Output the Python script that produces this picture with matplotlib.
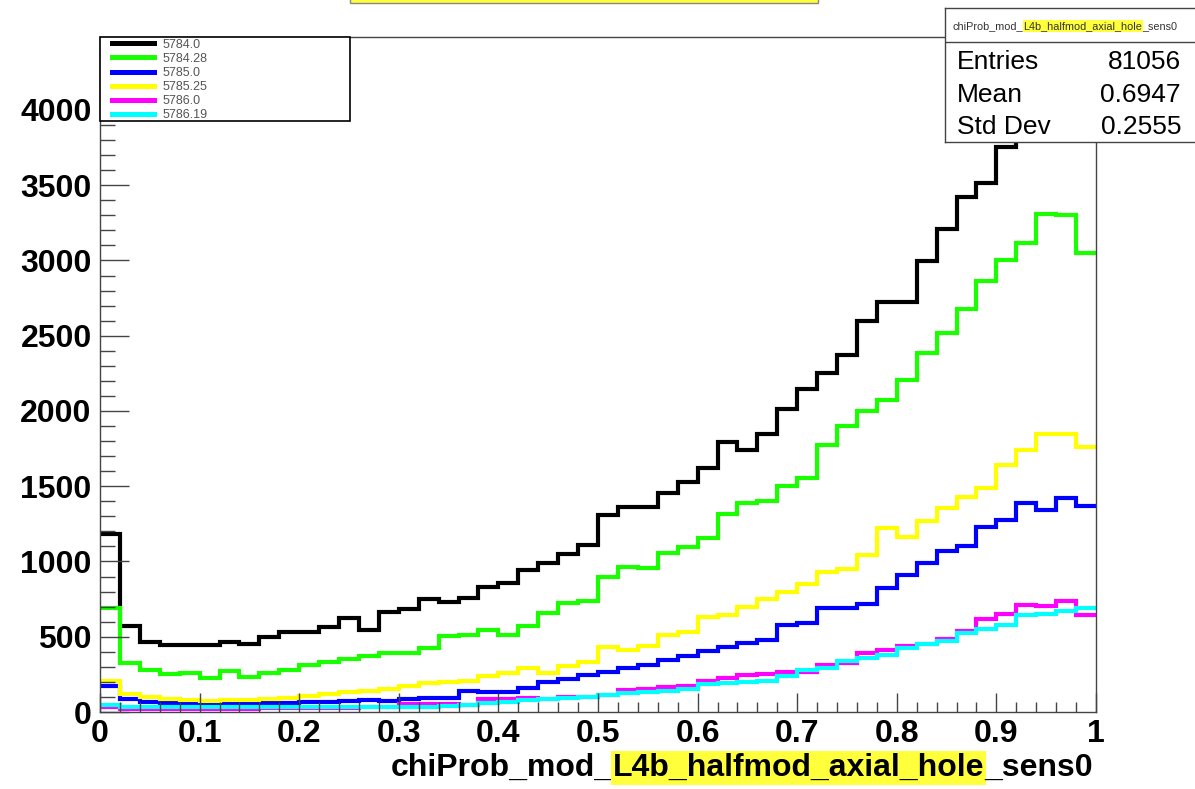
import numpy as np
import matplotlib
matplotlib.use('Agg')
import matplotlib.pyplot as plt
from matplotlib.ticker import MultipleLocator
from matplotlib.transforms import IdentityTransform
from matplotlib.patches import Rectangle

plt.rcParams['font.family'] = ['Liberation Sans', 'DejaVu Sans']

# 50 bins of chiProb in [0, 1]
edges = np.linspace(0.0, 1.0, 51)

run_labels = ['5784.0', '5784.28', '5785.0', '5785.25', '5786.0', '5786.19']
run_colors = ['#000000', '#1aff00', '#0000ff', '#ffff00', '#ff00ff', '#00ffff']

h_5784_0 = [1180, 571, 467, 445, 445, 445, 467, 450, 500, 534,
            534, 567, 622, 545, 662, 682, 749, 733, 755, 833,
            855, 944, 992, 1050, 1110, 1309, 1360, 1360, 1453, 1530,
            1619, 1796, 1741, 1850, 2016, 2145, 2250, 2371, 2601, 2721,
            2727, 2998, 3211, 3424, 3512, 3756, 3950, 4150, 4270, 3950]
h_5784_28 = [689, 325, 280, 250, 257, 228, 275, 230, 259, 279,
             309, 333, 350, 372, 392, 394, 423, 505, 512, 545,
             512, 571, 656, 726, 740, 899, 966, 955, 1059, 1099,
             1154, 1316, 1387, 1400, 1500, 1556, 1773, 1899, 2000, 2070,
             2207, 2383, 2516, 2679, 2867, 3003, 3118, 3306, 3299, 3053]
h_5785_0 = [175, 84, 69, 58, 53, 53, 53, 58, 58, 58,
            69, 69, 73, 80, 75, 88, 94, 94, 138, 135,
            135, 160, 198, 218, 243, 266, 290, 314, 345, 371,
            406, 434, 456, 480, 578, 594, 694, 690, 720, 827,
            908, 991, 1071, 1104, 1229, 1279, 1387, 1342, 1422, 1367]
h_5785_25 = [205, 117, 100, 88, 82, 76, 78, 82, 84, 91,
             104, 118, 130, 142, 152, 170, 192, 198, 209, 239,
             257, 290, 259, 306, 331, 429, 410, 437, 514, 534,
             633, 644, 700, 750, 800, 852, 928, 953, 1041, 1221,
             1166, 1266, 1354, 1430, 1488, 1643, 1744, 1849, 1849, 1764]
h_5786_0 = [30, 22, 20, 20, 20, 20, 22, 22, 24, 24,
            25, 26, 28, 30, 32, 55, 55, 55, 45, 84,
            84, 91, 84, 102, 102, 113, 146, 150, 165, 175,
            205, 225, 245, 255, 263, 263, 313, 326, 389, 409,
            439, 451, 484, 539, 619, 652, 710, 702, 735, 644]
h_5786_19 = [45, 31, 30, 30, 30, 30, 30, 30, 31, 31,
             32, 32, 33, 34, 35, 33, 36, 38, 44, 58,
             69, 80, 84, 91, 102, 113, 126, 135, 142, 150,
             185, 190, 201, 208, 238, 276, 293, 338, 358, 376,
             426, 451, 469, 526, 551, 577, 644, 652, 670, 690]

hists = [h_5784_0, h_5784_28, h_5785_0, h_5785_25, h_5786_0, h_5786_19]

stat_names = ['Entries', 'Mean', 'Std Dev']
stat_values = ['81056', '0.6947', '0.2555']

name_parts = [('chiProb_mod_', False), ('L4b_halfmod_axial_hole', True), ('_sens0', False)]
HL = '#ffff3c'

W, H = 1195, 789
fig = plt.figure(figsize=(W / 100, H / 100), dpi=100)
ax = fig.add_axes([100 / W, 1 - 712 / H, 996 / W, 675 / H])

for vals, lab, col in zip(hists, run_labels, run_colors):
    ax.stairs(vals, edges, baseline=None, color=col, lw=3, label=lab)

ax.set_xlim(0, 1)
ax.set_ylim(0, 4485)
ax.xaxis.set_major_locator(MultipleLocator(0.1))
ax.xaxis.set_minor_locator(MultipleLocator(0.02))
ax.yaxis.set_major_locator(MultipleLocator(500))
ax.yaxis.set_minor_locator(MultipleLocator(100))
ax.xaxis.set_major_formatter(plt.FuncFormatter(lambda v, p: '%g' % round(v, 2)))
ax.tick_params(axis='y', which='major', direction='in', length=21, width=1, color='#444',
               labelsize=23, pad=6)
ax.tick_params(axis='y', which='minor', direction='in', length=10.5, width=1, color='#444')
ax.tick_params(axis='x', which='major', direction='in', length=14, width=1, color='#444',
               labelsize=23, pad=5)
ax.tick_params(axis='x', which='minor', direction='in', length=7, width=1, color='#444')
for lab in ax.get_xticklabels() + ax.get_yticklabels():
    lab.set_fontweight('bold')
for sp in ax.spines.values():
    sp.set_color('#444')
    sp.set_linewidth(1)

# legend: frameless entries plus a drawn box, like the ROOT TLegend
leg = ax.legend(loc='upper left', bbox_to_anchor=(111 / W, 1 - 38 / H),
                bbox_transform=fig.transFigure, borderaxespad=0, borderpad=0.05,
                fontsize=9, handlelength=3.4, handletextpad=0.65, labelspacing=0.17,
                frameon=False)
for t in leg.get_texts():
    t.set_color('#555')
for ln in leg.get_lines():
    ln.set_linewidth(3.6)
ax.add_patch(Rectangle((100 / W, 1 - 121 / H), 250 / W, 84 / H, transform=fig.transFigure,
                       fc='white', ec='black', lw=1.2, clip_on=False, zorder=4))

# stats box
sx = fig.add_axes([945 / W, 1 - 142 / H, 252 / W, 134 / H])
sx.set_xticks([])
sx.set_yticks([])
sx.set_facecolor('white')
for sp in sx.spines.values():
    sp.set_color('#444')
    sp.set_linewidth(1)
sx.axhline((142 - 42) / 134, color='#444', lw=1)
for i, (nm, val) in enumerate(zip(stat_names, stat_values)):
    yb = H - (69 + 32.5 * i)
    fig.text(957, yb, nm, transform=IdentityTransform(), fontsize=19, va='baseline', ha='left')
    fig.text(1181, yb, val, transform=IdentityTransform(), fontsize=19, va='baseline', ha='right')

fig.canvas.draw()
renderer = fig.canvas.get_renderer()


def draw_parts(x, y, parts, size, weight, color, align, pad=0.05):
    texts = []
    for s, hl in parts:
        kw = {}
        if hl:
            kw['bbox'] = dict(boxstyle='square,pad=%g' % pad, fc=HL, ec='none')
        t = fig.text(0, y, s, transform=IdentityTransform(), fontsize=size,
                     fontweight=weight, color=color, va='baseline', ha='left', **kw)
        texts.append(t)
    widths = [t.get_window_extent(renderer).width for t in texts]
    total = sum(widths)
    x0 = x - total if align == 'right' else x - total / 2
    for t, w in zip(texts, widths):
        t.set_x(x0)
        x0 += w


# x-axis label
draw_parts(1093, H - 776, name_parts, 23, 'bold', 'black', 'right')
# stats box title
draw_parts(1065, H - 29, name_parts, 7.8, 'normal', '#333', 'center')
# histogram title, mostly cut off at the top of the canvas (as in the original)
fig.text(584, H + 1, ''.join(p for p, _ in name_parts), transform=IdentityTransform(),
         fontsize=15, fontweight='bold', ha='center', va='bottom',
         bbox=dict(boxstyle='square,pad=0.2', fc=HL, ec='#888', lw=1))

fig.savefig('out.png', dpi=100)
